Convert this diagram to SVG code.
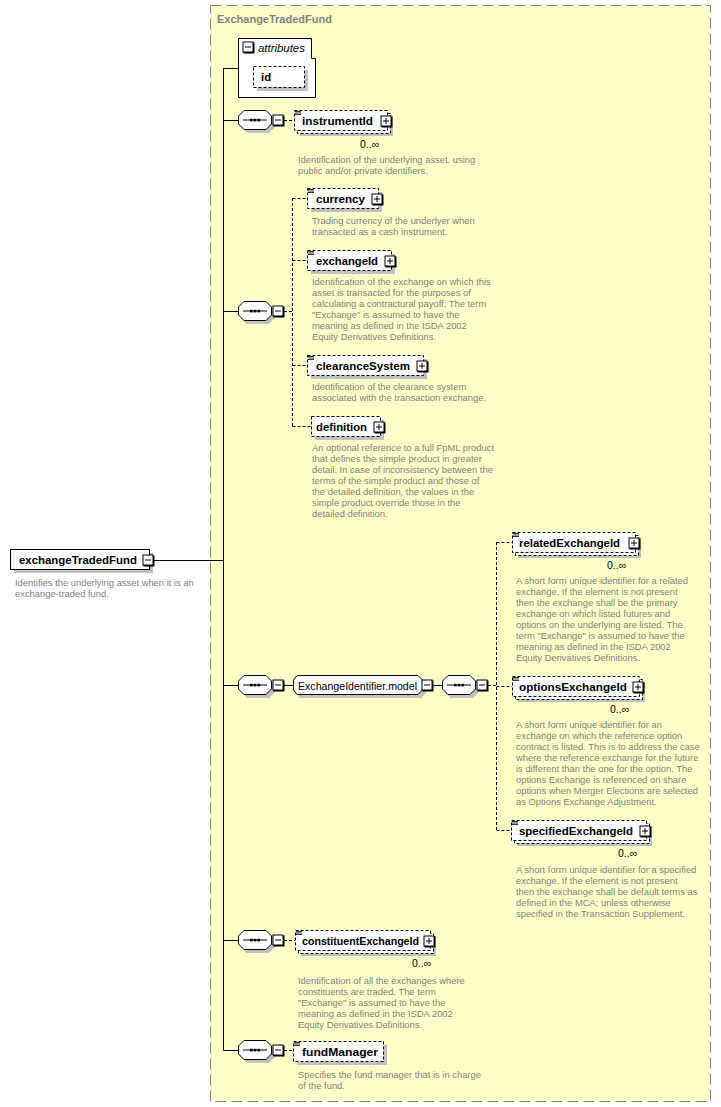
<svg xmlns="http://www.w3.org/2000/svg" xmlns:xlink="http://www.w3.org/1999/xlink" width="721" height="1107" viewBox="0 0 721 1107">
<style>
text{font-family:"Liberation Sans",Arial,sans-serif}
.el{font-size:11.4px;font-weight:bold;fill:#000}
.desc{font-size:9.4px;fill:#808080}
.occ{font-size:10.5px;fill:#000}
.sh{fill:#c0c0c0}
.opt{fill:#fff;stroke:#000;stroke-width:1;stroke-dasharray:3 2}
.req{fill:#fff;stroke:#000;stroke-width:1}
.ln{stroke:#000;stroke-width:1;fill:none}
.dl{stroke:#000;stroke-width:1;fill:none;stroke-dasharray:3 2}
</style>
<defs>
<g id="minus"><rect x="1" y="1" width="11" height="11" fill="#000"/><rect x="0.5" y="0.5" width="10" height="10" fill="#fff" stroke="#000"/><path d="M2.5 5.5H8.5" stroke="#000"/></g>
<g id="plus"><rect x="1" y="1" width="11" height="11" fill="#000"/><rect x="0.5" y="0.5" width="10" height="10" fill="#fff" stroke="#000"/><path d="M2.5 5.5H8.5M5.5 2.5V8.5" stroke="#000"/></g>
<g id="icon"><path d="M1 1.5H7M1 3H7M1 4.5H7" stroke="#000" stroke-width="0.8"/></g>
<g id="seq">
<polygon points="9,3 31,3 37,9 37,17 31,23 9,23 3,17 3,9" class="sh"/>
<polygon points="6,0.5 28,0.5 33.5,6 33.5,14 28,19.5 6,19.5 0.5,14 0.5,6" fill="#fff" stroke="#000"/>
<path d="M5 10H29" stroke="#000"/>
<rect x="12" y="8.8" width="2.6" height="2.6" fill="#000"/><rect x="15.7" y="8.8" width="2.6" height="2.6" fill="#000"/><rect x="19.4" y="8.8" width="2.6" height="2.6" fill="#000"/>
<use xlink:href="#minus" x="34.5" y="4.5"/>
</g>
</defs>

<rect x="0" y="0" width="721" height="1107" fill="#fff"/>
<g id="ExchangeTradedFund-box">
<rect x="210.5" y="5.5" width="500" height="1096" fill="#ffffc8" stroke="#808080" stroke-dasharray="11 5"/>
<text x="217" y="23" font-size="11px" font-weight="bold" fill="#808080">ExchangeTradedFund</text>
</g>

<g id="connectors">
<path class="ln" d="M153 560.5H223.5M223.5 68V1050.5M223.5 68.5H238M223.5 120.5H238M223.5 311.5H238M223.5 685.5H238M223.5 940.5H238M223.5 1050.5H238"/>
<path class="dl" d="M284 120.5H294"/>
<path class="dl" d="M284 311.5H292.5M292.5 198V426M292.5 198.5H307M292.5 260.5H307M292.5 365.5H307M292.5 426.5H311"/>
<path class="ln" d="M284 685.5H293M433 685.5H442"/>
<path class="dl" d="M488 685.5H496.5M496.5 542V830M496.5 542.5H512M496.5 686.5H512M496.5 830.5H511"/>
<path class="dl" d="M284 940.5H295"/>
<path class="dl" d="M284 1050.5H293"/>
</g>

<g id="exchangeTradedFund">
<rect x="14" y="553" width="139" height="20" class="sh"/>
<rect x="10.5" y="549.5" width="139" height="20" class="req"/>
<text x="19" y="564" class="el" textLength="118" lengthAdjust="spacingAndGlyphs">exchangeTradedFund</text>
<use xlink:href="#minus" x="142.5" y="554.5"/>
<text class="desc"><tspan x="15" y="586">Identifies the underlying asset when it is an</tspan><tspan x="15" y="597">exchange-traded fund.</tspan></text>
</g>

<g id="attributes">
<path d="M238.5 38.5H311.5V58.5H315.5V97.5H238.5Z" fill="#fff" stroke="#000"/>
<use xlink:href="#minus" x="242.5" y="41.5"/>
<text x="258" y="52" font-size="11.4px" font-style="italic" fill="#000">attributes</text>
<g id="attr-id">
<rect x="257" y="70" width="51" height="21" class="sh"/>
<rect x="253.5" y="66.5" width="51" height="21" class="opt"/>
<text x="261" y="81" class="el">id</text>
</g>
</g>

<g id="seq1"><use xlink:href="#seq" x="238" y="110"/></g>
<g id="instrumentId">
<rect x="300" y="116" width="93" height="20" class="sh"/>
<rect x="297.5" y="113.5" width="93" height="20" class="opt"/>
<rect x="294.5" y="110.5" width="93" height="20" class="opt"/>
<use xlink:href="#icon" x="294" y="110"/>
<text x="302" y="125" class="el" textLength="71" lengthAdjust="spacingAndGlyphs">instrumentId</text>
<use xlink:href="#plus" x="380.5" y="115.5"/>
<text x="360" y="148" class="occ">0..∞</text>
<text class="desc"><tspan x="298" y="163">Identification of the underlying asset, using</tspan><tspan x="298" y="174">public and/or private identifiers.</tspan></text>
</g>

<g id="seq2"><use xlink:href="#seq" x="238" y="301"/></g>
<g id="currency">
<rect x="311" y="192" width="71" height="20" class="sh"/>
<rect x="307.5" y="188.5" width="71" height="20" class="opt"/>
<use xlink:href="#icon" x="307" y="188"/>
<text x="316" y="203" class="el" textLength="49" lengthAdjust="spacingAndGlyphs">currency</text>
<use xlink:href="#plus" x="371.5" y="193.5"/>
<text class="desc"><tspan x="312" y="224">Trading currency of the underlyer when</tspan><tspan x="312" y="235">transacted as a cash instrument.</tspan></text>
</g>
<g id="exchangeId">
<rect x="311" y="254" width="84" height="20" class="sh"/>
<rect x="307.5" y="250.5" width="84" height="20" class="opt"/>
<use xlink:href="#icon" x="307" y="250"/>
<text x="316" y="265" class="el" textLength="62" lengthAdjust="spacingAndGlyphs">exchangeId</text>
<use xlink:href="#plus" x="384.5" y="255.5"/>
<text class="desc"><tspan x="312" y="285">Identification of the exchange on which this</tspan><tspan x="312" y="296">asset is transacted for the purposes of</tspan><tspan x="312" y="307">calculating a contractural payoff. The term</tspan><tspan x="312" y="318">"Exchange" is assumed to have the</tspan><tspan x="312" y="329">meaning as defined in the ISDA 2002</tspan><tspan x="312" y="340">Equity Derivatives Definitions.</tspan></text>
</g>
<g id="clearanceSystem">
<rect x="311" y="359" width="116" height="20" class="sh"/>
<rect x="307.5" y="355.5" width="116" height="20" class="opt"/>
<use xlink:href="#icon" x="307" y="355"/>
<text x="316" y="370" class="el" textLength="94" lengthAdjust="spacingAndGlyphs">clearanceSystem</text>
<use xlink:href="#plus" x="416.5" y="360.5"/>
<text class="desc"><tspan x="312" y="390">Identification of the clearance system</tspan><tspan x="312" y="401">associated with the transaction exchange.</tspan></text>
</g>
<g id="definition">
<rect x="315" y="420" width="69" height="20" class="sh"/>
<rect x="311.5" y="416.5" width="69" height="20" class="opt"/>
<text x="316" y="431" class="el" textLength="51" lengthAdjust="spacingAndGlyphs">definition</text>
<use xlink:href="#plus" x="373.5" y="421.5"/>
<text class="desc"><tspan x="312" y="451">An optional reference to a full FpML product</tspan><tspan x="312" y="462">that defines the simple product in greater</tspan><tspan x="312" y="473">detail. In case of inconsistency between the</tspan><tspan x="312" y="484">terms of the simple product and those of</tspan><tspan x="312" y="495">the detailed definition, the values in the</tspan><tspan x="312" y="506">simple product override those in the</tspan><tspan x="312" y="517">detailed definition.</tspan></text>
</g>

<g id="seq3"><use xlink:href="#seq" x="238" y="675"/></g>
<g id="ExchangeIdentifier.model">
<polygon points="300,678 421,678 426,683 426,693 421,698 300,698 296,693 296,683" class="sh"/>
<polygon points="297,675.5 418,675.5 422.5,680 422.5,690 418,694.5 297,694.5 293.5,690 293.5,680" fill="#fff" stroke="#000"/>
<text x="298" y="690" font-size="11px" fill="#000" textLength="119" lengthAdjust="spacingAndGlyphs">ExchangeIdentifier.model</text>
<use xlink:href="#minus" x="421.5" y="679.5"/>
</g>
<g id="seq4"><use xlink:href="#seq" x="442" y="675"/></g>
<g id="relatedExchangeId">
<rect x="518" y="538" width="123" height="20" class="sh"/>
<rect x="515.5" y="535.5" width="123" height="20" class="opt"/>
<rect x="512.5" y="532.5" width="123" height="20" class="opt"/>
<use xlink:href="#icon" x="512" y="532"/>
<text x="519" y="547" class="el" textLength="101" lengthAdjust="spacingAndGlyphs">relatedExchangeId</text>
<use xlink:href="#plus" x="628.5" y="537.5"/>
<text x="607" y="569" class="occ">0..∞</text>
<text class="desc"><tspan x="516" y="584">A short form unique identifier for a related</tspan><tspan x="516" y="595">exchange. If the element is not present</tspan><tspan x="516" y="606">then the exchange shall be the primary</tspan><tspan x="516" y="617">exchange on which listed futures and</tspan><tspan x="516" y="628">options on the underlying are listed. The</tspan><tspan x="516" y="639">term "Exchange" is assumed to have the</tspan><tspan x="516" y="650">meaning as defined in the ISDA 2002</tspan><tspan x="516" y="661">Equity Derivatives Definitions.</tspan></text>
</g>
<g id="optionsExchangeId">
<rect x="518" y="682" width="127" height="20" class="sh"/>
<rect x="515.5" y="679.5" width="127" height="20" class="opt"/>
<rect x="512.5" y="676.5" width="127" height="20" class="opt"/>
<use xlink:href="#icon" x="512" y="676"/>
<text x="519" y="691" class="el" textLength="108" lengthAdjust="spacingAndGlyphs">optionsExchangeId</text>
<use xlink:href="#plus" x="632.5" y="681.5"/>
<text x="610" y="713" class="occ">0..∞</text>
<text class="desc"><tspan x="516" y="728">A short form unique identifier for an</tspan><tspan x="516" y="739">exchange on which the reference option</tspan><tspan x="516" y="750">contract is listed. This is to address the case</tspan><tspan x="516" y="761">where the reference exchange for the future</tspan><tspan x="516" y="772">is different than the one for the option. The</tspan><tspan x="516" y="783">options Exchange is referenced on share</tspan><tspan x="516" y="794">options when Merger Elections are selected</tspan><tspan x="516" y="805">as Options Exchange Adjustment.</tspan></text>
</g>
<g id="specifiedExchangeId">
<rect x="517" y="826" width="135" height="20" class="sh"/>
<rect x="514.5" y="823.5" width="135" height="20" class="opt"/>
<rect x="511.5" y="820.5" width="135" height="20" class="opt"/>
<use xlink:href="#icon" x="511" y="820"/>
<text x="519" y="835" class="el" textLength="114" lengthAdjust="spacingAndGlyphs">specifiedExchangeId</text>
<use xlink:href="#plus" x="639.5" y="825.5"/>
<text x="618" y="857" class="occ">0..∞</text>
<text class="desc"><tspan x="516" y="873">A short form unique identifier for a specified</tspan><tspan x="516" y="884">exchange. If the element is not present</tspan><tspan x="516" y="895">then the exchange shall be default terms as</tspan><tspan x="516" y="906">defined in the MCA; unless otherwise</tspan><tspan x="516" y="917">specified in the Transaction Supplement.</tspan></text>
</g>

<g id="seq5"><use xlink:href="#seq" x="238" y="930"/></g>
<g id="constituentExchangeId">
<rect x="301" y="936" width="135" height="20" class="sh"/>
<rect x="298.5" y="933.5" width="135" height="20" class="opt"/>
<rect x="295.5" y="930.5" width="135" height="20" class="opt"/>
<use xlink:href="#icon" x="295" y="930"/>
<text x="302" y="945" class="el" textLength="117" lengthAdjust="spacingAndGlyphs">constituentExchangeId</text>
<use xlink:href="#plus" x="423.5" y="935.5"/>
<text x="412" y="967" class="occ">0..∞</text>
<text class="desc"><tspan x="298" y="984">Identification of all the exchanges where</tspan><tspan x="298" y="995">constituents are traded. The term</tspan><tspan x="298" y="1006">"Exchange" is assumed to have the</tspan><tspan x="298" y="1017">meaning as defined in the ISDA 2002</tspan><tspan x="298" y="1028">Equity Derivatives Definitions.</tspan></text>
</g>

<g id="seq6"><use xlink:href="#seq" x="238" y="1040"/></g>
<g id="fundManager">
<rect x="297" y="1045" width="90" height="20" class="sh"/>
<rect x="293.5" y="1041.5" width="90" height="20" class="opt"/>
<use xlink:href="#icon" x="293" y="1041"/>
<text x="302" y="1056" class="el" textLength="76" lengthAdjust="spacingAndGlyphs">fundManager</text>
<text class="desc"><tspan x="298" y="1078">Specifies the fund manager that is in charge</tspan><tspan x="298" y="1089">of the fund.</tspan></text>
</g>
</svg>
